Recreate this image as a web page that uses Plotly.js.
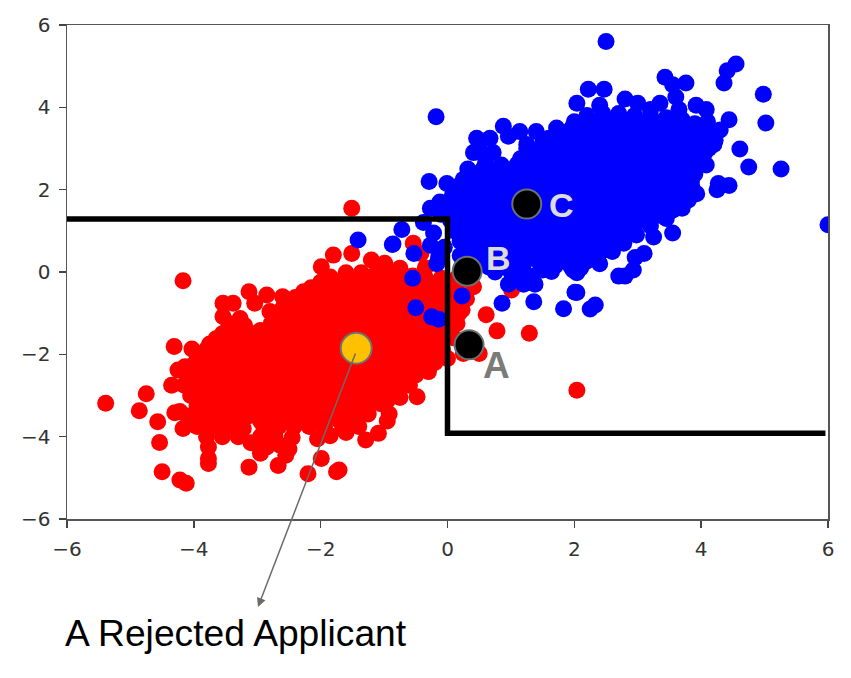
<!DOCTYPE html>
<html>
<head>
<meta charset="utf-8">
<script src="https://cdn.plot.ly/plotly-3.0.1.min.js"></script>
<style>html,body{margin:0;padding:0;background:#fff}#chart{width:851px;height:678px}</style>
</head>
<body>
<div id="chart"></div>
<script>
// All values are estimates; the solid cores of the clouds cannot be resolved point by point.
const redPoints = [
[-1.51,1.55],[-4.17,-0.21],[-5.39,-3.19],[-4.75,-2.96],[-4.86,-3.37],[-4.57,-3.64],[-4.54,-4.14],[-4.5,-4.85],[-4.22,-5.05],[-4.12,-5.13],
[-3.77,-4.53],[-3.77,-4.65],[-3.13,-4.74],[-2.67,-4.7],[-2.2,-4.9],[-1.99,-4.53],[-1.71,-4.81],[-1.75,-4.85],[-1.29,-4.08],[-1.09,-3.92],
[-0.92,-3.45],[-0.95,-3.62],[-0.48,-3.03],[-0.3,-2.42],[-4.31,-1.81],[-4.03,-1.87],[-4.35,-2.75],[-4.14,-2.3],[-4.25,-2.38],[-4.22,-3.39],[-4.3,-3.42],[-4.17,-3.8],
[-3.13,-0.48],[-2.85,-0.56],[-2.6,-0.6],[-3.04,-0.76],[-3.54,-0.76],[-3.38,-0.76],[-3.54,-1.08],[-3.27,-1.13],[-2.8,-0.96],[-2.27,-0.48],
[-1.99,0.13],[-1.8,0.41],[-1.51,0.45],[-1.2,0.29],[-0.99,0.21],[-0.54,0.7],[-0.75,0.09],[-0.42,0.45],[-0.35,0.1],
[0.61,-1.04],[0.78,-1.43],[1.29,-1.49],[2.04,-2.87],[0.5,-1.98],[0.25,-1.98],[0.99,0.2],[1.01,-0.44],[0.3,0.6],[0.41,-0.36],[0.3,-0.65],[0.23,-0.92],[0.15,-1.25],[0.1,-1.6],[0.0,-2.1],
[-1.6,-0.02],[-1.36,-0.02],[-1.12,-0.02],[-0.88,-0.06],[-0.55,-0.1],
[-1.85,-0.12],[-1.6,-0.14],[-1.35,-0.14],[-1.1,-0.14],[-0.85,-0.14],[-0.6,-0.14],[-0.35,-0.14],[-0.1,-0.15],[0.15,-0.15],
[-2,-0.25],[-1.76,-0.25],[-1.52,-0.25],[-1.28,-0.25],[-1.04,-0.25],[-0.8,-0.25],[-0.56,-0.25],[-0.32,-0.25],[-0.08,-0.3],[0.15,-0.3],
[-2.15,-0.38],[-1.9,-0.38],[-1.65,-0.38],[-1.4,-0.38],[-1.15,-0.38],[-0.9,-0.38],[-0.65,-0.38],[-0.4,-0.38],[-0.15,-0.38],[0.1,-0.4],
[-2.25,-0.5],[-2.01,-0.5],[-1.77,-0.5],[-1.53,-0.5],[-1.29,-0.5],[-1.05,-0.5],[-0.81,-0.5],[-0.57,-0.5],[-0.33,-0.5],[-0.09,-0.5],[0.15,-0.55],
[-2.4,-0.62],[-2.15,-0.62],[-1.9,-0.62],[-1.65,-0.62],[-1.4,-0.62],[-1.15,-0.62],[-0.9,-0.62],[-0.65,-0.62],[-0.4,-0.62],[-0.15,-0.62],[0.1,-0.65],
[-2.5,-0.75],[-2.26,-0.75],[-2.02,-0.75],[-1.78,-0.75],[-1.54,-0.75],[-1.3,-0.75],[-1.06,-0.75],[-0.82,-0.75],[-0.58,-0.75],[-0.34,-0.75],[-0.1,-0.75],[0.12,-0.8],
[-2.6,-0.88],[-2.35,-0.88],[-2.1,-0.88],[-1.85,-0.88],[-1.6,-0.88],[-1.35,-0.88],[-1.1,-0.88],[-0.85,-0.88],[-0.6,-0.88],[-0.35,-0.88],[-0.1,-0.88],[0.1,-0.9],
[-2.7,-1],[-2.46,-1],[-2.22,-1],[-1.98,-1],[-1.74,-1],[-1.5,-1],[-1.26,-1],[-1.02,-1],[-0.78,-1],[-0.54,-1],[-0.3,-1],[-0.06,-1],[0.18,-1],
[-2.7,-1.12],[-2.45,-1.12],[-2.2,-1.12],[-1.95,-1.12],[-1.7,-1.12],[-1.45,-1.12],[-1.2,-1.12],[-0.95,-1.12],[-0.7,-1.12],[-0.45,-1.12],[-0.2,-1.12],[0.05,-1.12],
[-3.45,-1.25],[-3.2,-1.3],[-2.78,-1.25],[-2.54,-1.25],[-2.3,-1.25],[-2.06,-1.25],[-1.82,-1.25],[-1.58,-1.25],[-1.34,-1.25],[-1.1,-1.25],[-0.86,-1.25],[-0.62,-1.25],[-0.38,-1.25],[-0.14,-1.25],
[-3.45,-1.38],[-3.2,-1.38],[-2.95,-1.42],[-2.7,-1.38],[-2.45,-1.38],[-2.2,-1.38],[-1.95,-1.38],[-1.7,-1.38],[-1.45,-1.38],[-1.2,-1.38],[-0.95,-1.38],[-0.7,-1.38],[-0.45,-1.38],[-0.2,-1.38],[0.05,-1.38],
[-3.55,-1.5],[-3.31,-1.5],[-3.07,-1.5],[-2.83,-1.5],[-2.59,-1.5],[-2.35,-1.5],[-2.11,-1.5],[-1.87,-1.5],[-1.63,-1.5],[-1.39,-1.5],[-1.15,-1.5],[-0.91,-1.5],[-0.67,-1.5],[-0.43,-1.5],[-0.19,-1.5],[0.03,-1.5],
[-3.65,-1.62],[-3.4,-1.62],[-3.15,-1.62],[-2.9,-1.62],[-2.65,-1.62],[-2.4,-1.62],[-2.15,-1.62],[-1.9,-1.62],[-1.65,-1.62],[-1.4,-1.62],[-1.15,-1.62],[-0.9,-1.62],[-0.65,-1.62],[-0.4,-1.62],[-0.15,-1.62],
[-3.75,-1.75],[-3.51,-1.75],[-3.27,-1.75],[-3.03,-1.75],[-2.79,-1.75],[-2.55,-1.75],[-2.31,-1.75],[-2.07,-1.75],[-1.83,-1.75],[-1.59,-1.75],[-1.35,-1.75],[-1.11,-1.75],[-0.87,-1.75],[-0.63,-1.75],[-0.39,-1.75],[-0.15,-1.75],
[-3.8,-1.88],[-3.55,-1.88],[-3.3,-1.88],[-3.05,-1.88],[-2.8,-1.88],[-2.55,-1.88],[-2.3,-1.88],[-2.05,-1.88],[-1.8,-1.88],[-1.55,-1.88],[-1.3,-1.88],[-1.05,-1.88],[-0.8,-1.88],[-0.55,-1.88],[-0.3,-1.88],[-0.08,-1.88],
[-3.85,-2],[-3.61,-2],[-3.37,-2],[-3.13,-2],[-2.89,-2],[-2.65,-2],[-2.41,-2],[-2.17,-2],[-1.93,-2],[-1.69,-2],[-1.45,-2],[-1.21,-2],[-0.97,-2],[-0.73,-2],[-0.49,-2],[-0.25,-2],[-0.1,-2.05],
[-3.95,-2.12],[-3.7,-2.12],[-3.45,-2.12],[-3.2,-2.12],[-2.95,-2.12],[-2.7,-2.12],[-2.45,-2.12],[-2.2,-2.12],[-1.95,-2.12],[-1.7,-2.12],[-1.45,-2.12],[-1.2,-2.12],[-0.95,-2.12],[-0.7,-2.12],[-0.45,-2.12],[-0.2,-2.12],
[-4,-2.25],[-3.76,-2.25],[-3.52,-2.25],[-3.28,-2.25],[-3.04,-2.25],[-2.8,-2.25],[-2.56,-2.25],[-2.32,-2.25],[-2.08,-2.25],[-1.84,-2.25],[-1.6,-2.25],[-1.36,-2.25],[-1.12,-2.25],[-0.88,-2.25],[-0.64,-2.25],[-0.4,-2.25],[-0.2,-2.2],
[-4.05,-2.38],[-3.8,-2.38],[-3.55,-2.38],[-3.3,-2.38],[-3.05,-2.38],[-2.8,-2.38],[-2.55,-2.38],[-2.3,-2.38],[-2.05,-2.38],[-1.8,-2.38],[-1.55,-2.38],[-1.3,-2.38],[-1.05,-2.38],[-0.8,-2.38],[-0.55,-2.38],
[-4.1,-2.5],[-3.86,-2.5],[-3.62,-2.5],[-3.38,-2.5],[-3.14,-2.5],[-2.9,-2.5],[-2.66,-2.5],[-2.42,-2.5],[-2.18,-2.5],[-1.94,-2.5],[-1.7,-2.5],[-1.46,-2.5],[-1.22,-2.5],[-0.98,-2.5],[-0.74,-2.5],[-0.5,-2.5],
[-4.1,-2.62],[-3.85,-2.62],[-3.6,-2.62],[-3.35,-2.62],[-3.1,-2.62],[-2.85,-2.62],[-2.6,-2.62],[-2.35,-2.62],[-2.1,-2.62],[-1.85,-2.62],[-1.6,-2.62],[-1.35,-2.62],[-1.1,-2.62],[-0.85,-2.62],[-0.6,-2.62],
[-4.15,-2.75],[-3.91,-2.75],[-3.67,-2.75],[-3.43,-2.75],[-3.19,-2.75],[-2.95,-2.75],[-2.71,-2.75],[-2.47,-2.75],[-2.23,-2.75],[-1.99,-2.75],[-1.75,-2.75],[-1.51,-2.75],[-1.27,-2.75],[-1.03,-2.75],[-0.79,-2.75],[-0.6,-2.75],
[-4.05,-2.88],[-3.8,-2.88],[-3.55,-2.88],[-3.3,-2.88],[-3.05,-2.88],[-2.8,-2.88],[-2.55,-2.88],[-2.3,-2.88],[-2.05,-2.88],[-1.8,-2.88],[-1.55,-2.88],[-1.3,-2.88],[-1.05,-2.88],[-0.8,-2.88],
[-4.05,-3],[-3.81,-3],[-3.57,-3],[-3.33,-3],[-3.09,-3],[-2.85,-3],[-2.61,-3],[-2.37,-3],[-2.13,-3],[-1.89,-3],[-1.65,-3],[-1.41,-3],[-1.17,-3],[-0.93,-3],[-0.75,-3.05],
[-3.95,-3.12],[-3.7,-3.12],[-3.45,-3.12],[-3.2,-3.12],[-2.95,-3.12],[-2.7,-3.12],[-2.45,-3.12],[-2.2,-3.12],[-1.95,-3.12],[-1.7,-3.12],[-1.45,-3.12],[-1.2,-3.12],[-0.95,-3.12],
[-3.95,-3.25],[-3.71,-3.25],[-3.47,-3.25],[-3.23,-3.25],[-2.99,-3.25],[-2.75,-3.25],[-2.51,-3.25],[-2.27,-3.25],[-2.03,-3.25],[-1.79,-3.25],[-1.55,-3.25],[-1.31,-3.25],[-1.05,-3.2],
[-3.85,-3.38],[-3.6,-3.38],[-3.35,-3.38],[-3.1,-3.38],[-2.85,-3.38],[-2.6,-3.38],[-2.35,-3.38],[-2.1,-3.38],[-1.85,-3.38],[-1.6,-3.38],[-1.35,-3.38],
[-4.1,-3.5],[-3.86,-3.5],[-3.62,-3.5],[-3.38,-3.5],[-3.14,-3.5],[-2.9,-3.5],[-2.66,-3.5],[-2.42,-3.5],[-2.18,-3.5],[-1.94,-3.5],[-1.7,-3.5],[-1.46,-3.5],[-1.25,-3.45],
[-3.75,-3.62],[-3.5,-3.62],[-3.25,-3.62],[-2.95,-3.62],[-2.7,-3.62],[-2.45,-3.62],[-2.2,-3.62],[-1.95,-3.62],[-1.7,-3.62],[-1.45,-3.62],
[-3.95,-3.75],[-3.7,-3.75],[-3.46,-3.75],[-3.22,-3.8],[-2.9,-3.75],[-2.66,-3.75],[-2.42,-3.75],[-2.18,-3.75],[-1.94,-3.75],[-1.65,-3.8],[-1.4,-3.75],
[-3.8,-4],[-3.55,-4],[-3.3,-4],[-2.95,-4],[-2.72,-3.98],[-2.45,-4.02],[-2.05,-4.05],[-1.85,-3.98],[-1.6,-3.9],
[-3.77,-4.25],[-3.1,-4.15],[-2.85,-4.25],[-2.65,-4.2],[-2.5,-4.3],[-2.95,-4.4],[-2.55,-4.45]
];
const bluePoints = [
[2.5,5.6],[4.55,5.05],[4.41,4.89],[4.36,4.59],[4.98,4.32],[5.02,3.62],[4.61,2.99],[4.75,2.55],[5.26,2.5],[4.27,2.15],[4.44,2.1],[4.25,2],[6,1.15],
[-0.18,3.77],[3.43,4.73],[3.76,4.59],[3.55,4.55],[2.22,4.44],[2.47,4.44],[2.04,4.1],[2.4,4.05],[2.8,4.2],[3.0,4.1],[3.2,3.95],[3.35,4.1],[3.6,4.25],[3.65,3.95],[3.92,4.05],[4.08,3.95],[4.1,3.65],[4.44,3.7],[4.3,3.45],
[0.88,3.54],[1.14,3.41],[0.96,3.3],[1.4,3.41],[1.25,3],[0.46,3.25],[0.67,3.25],[0.41,2.9],[0.5,3],[0.72,2.9],[0.6,2.65],[0.85,2.6],
[-0.29,2.2],[-0.01,2.15],[-0.27,1.55],[-0.12,1.7],[-0.38,1.2],[-0.72,1.03],[-0.86,0.68],[-0.53,0.45],[-0.55,-0.15],[-0.5,-0.87],[-0.25,-1.09],[-0.14,-1.15],[-1.41,0.78],[-0.87,0.67],[-0.17,0.2],[-0.27,0.65],[-0.22,0.95],[-0.14,0.35],[-0.05,0.6],[-0.1,1.4],
[0.23,-0.58],[0.86,-0.76],[1.36,-0.72],[1.83,-0.89],[2.01,-0.49],[0.2,0.4],[0.96,-0.3],[1.2,-0.3],[1.38,-0.3],[1.3,-0.1],[1.46,0.2],[1.64,0.01],[2.04,-0.02],[2.04,-0.5],[2.25,-0.9],[2.33,-0.8],[2.4,0.2],[2.6,0.5],[2.7,-0.1],[2.8,-0.1],[2.93,0.05],[2.96,0.35],[3.1,0.45],[2.98,0.9],[3.25,0.85],[3.55,0.95],[3.45,1.3],[3.7,1.55],[3.93,1.9],[3.85,2.5],[4.08,2.6],
[2.2,3.8],[2.45,3.85],[2.7,3.85],[2.95,3.8],[3.2,3.8],[3.45,3.75],[3.7,3.7],[3.9,3.6],
[2,3.65],[2.25,3.65],[2.5,3.65],[2.75,3.65],[3,3.65],[3.25,3.65],[3.5,3.65],[3.75,3.6],
[1.72,3.5],[1.96,3.5],[2.2,3.5],[2.44,3.5],[2.68,3.5],[2.92,3.5],[3.16,3.5],[3.4,3.5],[3.64,3.5],[3.88,3.5],[4.12,3.4],
[1.8,3.38],[2.05,3.38],[2.3,3.38],[2.55,3.38],[2.8,3.38],[3.05,3.38],[3.3,3.38],[3.55,3.38],[3.8,3.38],[4.05,3.3],[4.2,3.3],
[1.6,3.25],[1.84,3.25],[2.08,3.25],[2.32,3.25],[2.56,3.25],[2.8,3.25],[3.04,3.25],[3.28,3.25],[3.52,3.25],[3.76,3.25],[4,3.25],[4.22,3.2],
[1.5,3.12],[1.75,3.12],[2,3.12],[2.25,3.12],[2.5,3.12],[2.75,3.12],[3,3.12],[3.25,3.12],[3.5,3.12],[3.75,3.12],[4,3.12],[4.2,3.1],
[1.25,3.1],[1.48,3],[1.72,3],[1.96,3],[2.2,3],[2.44,3],[2.68,3],[2.92,3],[3.16,3],[3.4,3],[3.64,3],[3.88,3],[4.12,3],
[1.3,2.88],[1.55,2.88],[1.8,2.88],[2.05,2.88],[2.3,2.88],[2.55,2.88],[2.8,2.88],[3.05,2.88],[3.3,2.88],[3.55,2.88],[3.8,2.88],[4.05,2.88],
[1.15,2.75],[1.36,2.75],[1.6,2.75],[1.84,2.75],[2.08,2.75],[2.32,2.75],[2.56,2.75],[2.8,2.75],[3.04,2.75],[3.28,2.75],[3.52,2.75],[3.76,2.75],[4,2.75],
[1.1,2.62],[1.35,2.62],[1.6,2.62],[1.85,2.62],[2.1,2.62],[2.35,2.62],[2.6,2.62],[2.85,2.62],[3.1,2.62],[3.35,2.62],[3.6,2.62],[3.85,2.62],
[0.32,2.5],[0.56,2.5],[0.8,2.45],[1.04,2.5],[1.28,2.5],[1.52,2.5],[1.76,2.5],[2,2.5],[2.24,2.5],[2.48,2.5],[2.72,2.5],[2.96,2.5],[3.2,2.5],[3.44,2.5],[3.68,2.5],
[0.4,2.38],[0.65,2.38],[0.9,2.38],[1.15,2.38],[1.4,2.38],[1.65,2.38],[1.9,2.38],[2.15,2.38],[2.4,2.38],[2.65,2.38],[2.9,2.38],[3.15,2.38],[3.4,2.38],[3.65,2.38],[3.9,2.38],
[0.25,2.25],[0.49,2.25],[0.73,2.25],[0.97,2.25],[1.21,2.25],[1.45,2.25],[1.69,2.25],[1.93,2.25],[2.17,2.25],[2.41,2.25],[2.65,2.25],[2.89,2.25],[3.13,2.25],[3.37,2.25],[3.61,2.25],[3.85,2.25],
[0.2,2.12],[0.45,2.12],[0.7,2.12],[0.95,2.12],[1.2,2.12],[1.45,2.12],[1.7,2.12],[1.95,2.12],[2.2,2.12],[2.45,2.12],[2.7,2.12],[2.95,2.12],[3.2,2.12],[3.45,2.12],[3.7,2.12],[3.85,2.1],
[0.12,2],[0.36,2],[0.6,2],[0.84,2],[1.08,2],[1.32,2],[1.56,2],[1.8,2],[2.04,2],[2.28,2],[2.52,2],[2.76,2],[3,2],[3.24,2],[3.48,2],[3.72,2],
[0.08,1.88],[0.33,1.88],[0.58,1.88],[0.83,1.88],[1.08,1.88],[1.33,1.88],[1.58,1.88],[1.83,1.88],[2.08,1.88],[2.33,1.88],[2.58,1.88],[2.83,1.88],[3.08,1.88],[3.33,1.88],[3.58,1.88],[3.8,1.88],
[0.05,1.75],[0.25,1.75],[0.49,1.75],[0.73,1.75],[0.97,1.75],[1.21,1.75],[1.45,1.75],[1.69,1.75],[1.93,1.75],[2.17,1.75],[2.41,1.75],[2.65,1.75],[2.89,1.75],[3.13,1.75],[3.37,1.75],[3.61,1.75],[3.8,1.75],
[0.1,1.62],[0.35,1.62],[0.6,1.62],[0.85,1.62],[1.1,1.62],[1.35,1.62],[1.6,1.62],[1.85,1.62],[2.1,1.62],[2.35,1.62],[2.6,1.62],[2.85,1.62],[3.1,1.62],[3.35,1.62],[3.6,1.62],
[0.02,1.5],[0.24,1.5],[0.48,1.5],[0.72,1.5],[0.96,1.5],[1.2,1.5],[1.44,1.5],[1.68,1.5],[1.92,1.5],[2.16,1.5],[2.4,1.5],[2.64,1.5],[2.88,1.5],[3.12,1.5],[3.36,1.5],[3.55,1.5],
[0.1,1.38],[0.35,1.38],[0.6,1.38],[0.85,1.38],[1.1,1.38],[1.35,1.38],[1.6,1.38],[1.85,1.38],[2.1,1.38],[2.35,1.38],[2.6,1.38],[2.85,1.38],[3.1,1.38],[3.35,1.38],
[0.05,1.25],[0.28,1.25],[0.52,1.25],[0.76,1.25],[1,1.25],[1.24,1.25],[1.48,1.25],[1.72,1.25],[1.96,1.25],[2.2,1.25],[2.44,1.25],[2.68,1.25],[2.92,1.25],[3.16,1.25],
[0.2,1.12],[0.45,1.12],[0.7,1.12],[0.95,1.12],[1.2,1.12],[1.45,1.12],[1.7,1.12],[1.95,1.12],[2.2,1.12],[2.45,1.12],[2.7,1.12],[2.95,1.12],[3.2,1.12],
[0.1,1],[0.34,1],[0.58,1],[0.82,1],[1.06,1],[1.3,1],[1.54,1],[1.78,1],[2.02,1],[2.26,1],[2.5,1],[2.74,1],
[0.25,0.88],[0.5,0.88],[0.75,0.88],[1,0.88],[1.25,0.88],[1.5,0.88],[1.75,0.88],[2,0.88],[2.25,0.88],[2.5,0.88],[2.75,0.88],
[0.2,0.75],[0.44,0.75],[0.68,0.75],[0.92,0.75],[1.16,0.75],[1.4,0.75],[1.64,0.75],[1.88,0.75],[2.12,0.75],[2.36,0.75],[2.6,0.75],[2.78,0.7],
[0.3,0.62],[0.55,0.62],[0.8,0.62],[1.05,0.62],[1.3,0.62],[1.55,0.62],[1.8,0.62],[2.05,0.62],[2.3,0.62],[2.55,0.62],
[0.32,0.5],[0.56,0.5],[0.8,0.5],[1.04,0.5],[1.28,0.5],[1.52,0.5],[1.76,0.5],[2,0.5],[2.24,0.5],[2.42,0.5],
[0.5,0.38],[0.75,0.38],[1,0.38],[1.25,0.38],[1.5,0.38],[1.75,0.38],[2,0.38],[2.25,0.38],
[0.5,0.25],[0.74,0.25],[0.98,0.25],[1.22,0.25],[1.7,0.3],[1.94,0.25],[2.18,0.25],
[0.65,0.12],[0.9,0.12],[1.15,0.12],[1.7,0.15],[1.95,0.12],
[0.75,0],[1,0],[1.12,-0.1],[1.5,0.05],[2.1,0.1],[1.98,0.05]
];
const boundaryX = [-6.02, 0, 0, 5.96];
const boundaryY = [1.29, 1.29, -3.92, -3.92];
const rejectedPoint = [-1.44, -1.85];
const namedX = [0.34, 0.31, 1.25];
const namedY = [-1.77, 0.02, 1.65];
const tickValues = [-6, -4, -2, 0, 2, 4, 6];
const captionText = 'A Rejected Applicant';

const W = 851, H = 678, L = 67, T = 25, PW = 761, PH = 494;
const px = v => (v - L) / PW;
const py = v => 1 - (v - T) / PH;
const ax = {
  range: [-6, 6], tickvals: tickValues, showgrid: false, zeroline: false,
  showline: true, mirror: true, linecolor: '#555', linewidth: 1.5,
  ticks: 'outside', ticklen: 7, tickwidth: 1.5, tickcolor: '#444',
  ticklabelstandoff: 4,
  tickfont: {family: 'DejaVu Sans', size: 20, color: '#333'}
};
const letter = (text, x, y, size, color) => ({
  xref: 'paper', yref: 'paper', x: px(x), y: py(y), text: '<b>' + text + '</b>', showarrow: false,
  xanchor: 'center', yanchor: 'middle',
  font: {family: 'Liberation Sans', size: size, color: color}
});
Plotly.newPlot('chart', [
  {type: 'scatter', mode: 'markers', x: redPoints.map(p => p[0]), y: redPoints.map(p => p[1]),
   marker: {color: '#ff0000', size: 17}, hoverinfo: 'skip'},
  {type: 'scatter', mode: 'markers', x: bluePoints.map(p => p[0]), y: bluePoints.map(p => p[1]),
   marker: {color: '#0000ff', size: 17}, hoverinfo: 'skip'},
  {type: 'scatter', mode: 'lines', x: boundaryX, y: boundaryY, cliponaxis: false,
   line: {color: '#000', width: 5.5}, hoverinfo: 'skip'},
  {type: 'scatter', mode: 'markers', x: [rejectedPoint[0]], y: [rejectedPoint[1]],
   marker: {color: '#ffc000', size: 31, line: {color: '#6b7070', width: 2}}, hoverinfo: 'skip'},
  {type: 'scatter', mode: 'markers', x: namedX, y: namedY,
   marker: {color: '#000', size: 29, line: {color: '#6b7070', width: 2}}, hoverinfo: 'skip'}
], {
  width: W, height: H, showlegend: false,
  margin: {l: L, t: T, r: W - L - PW, b: H - T - PH, pad: 0},
  paper_bgcolor: '#fff', plot_bgcolor: '#fff',
  xaxis: Object.assign({}, ax), yaxis: Object.assign({}, ax),
  annotations: [
    letter('A', 496, 365, 37, '#7b7b78'),
    letter('B', 498, 258, 34, '#dcdcdc'),
    letter('C', 561, 205, 34, '#dcdcdc'),
    {xref: 'paper', yref: 'paper', x: px(258), y: py(607), text: '', showarrow: true,
     axref: 'pixel', ayref: 'pixel', ax: 98, ay: -255,
     arrowhead: 2, arrowsize: 1.2, arrowwidth: 1.5, arrowcolor: '#6b6b68', standoff: 0},
    {xref: 'paper', yref: 'paper', x: px(63), y: py(633), text: captionText, showarrow: false,
     xanchor: 'left', yanchor: 'middle',
     font: {family: 'Liberation Sans', size: 37.2, color: '#000'}}
  ]
}, {staticPlot: true, displayModeBar: false});
</script>
</body>
</html>
